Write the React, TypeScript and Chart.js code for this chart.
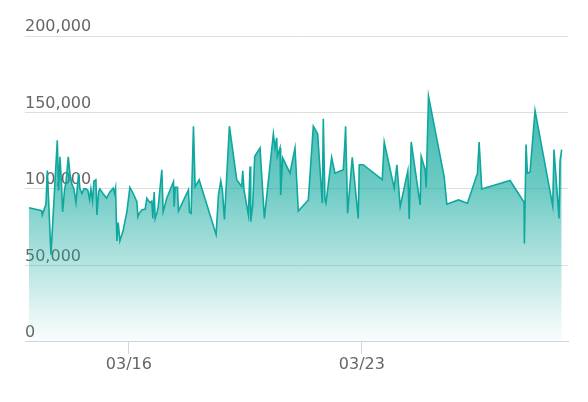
import { useEffect, useRef } from "react";
import { Chart, registerables } from "chart.js";

Chart.register(...registerables);

// x: day of March (fractional), y: value
const days = [
  13.0, 13.38, 13.4, 13.51, 13.55, 13.66, 13.85, 13.89, 13.93, 13.97,
  14.01, 14.07, 14.11, 14.18, 14.23, 14.29, 14.35, 14.41, 14.49, 14.53,
  14.59, 14.65, 14.71, 14.77, 14.82, 14.86, 14.91, 14.95, 15.01, 15.04,
  15.09, 15.13, 15.22, 15.33, 15.43, 15.53, 15.57, 15.6, 15.64, 15.68,
  15.73, 15.83, 15.94, 16.03, 16.13, 16.24, 16.27, 16.31, 16.39, 16.49,
  16.54, 16.58, 16.64, 16.69, 16.72, 16.76, 16.79, 16.84, 16.88, 16.99,
  17.03, 17.14, 17.34, 17.36, 17.39, 17.46, 17.49, 17.79, 17.82, 17.87,
  17.94, 17.99, 18.11, 18.62, 18.69, 18.76, 18.81, 18.87, 19.02, 19.24,
  19.39, 19.42, 19.46, 19.59, 19.64, 19.66, 19.72, 19.78, 19.94, 20.07,
  20.34, 20.39, 20.44, 20.46, 20.54, 20.56, 20.62, 20.84, 20.99, 21.09,
  21.39, 21.54, 21.67, 21.81, 21.84, 21.89, 21.92, 22.09, 22.19, 22.44,
  22.49, 22.51, 22.57, 22.71, 22.89, 22.92, 23.04, 23.61, 23.67, 23.97,
  24.05, 24.15, 24.38, 24.42, 24.48, 24.75, 24.78, 24.9, 24.93, 25.0,
  25.47, 25.55, 25.9, 26.17, 26.47, 26.52, 26.6, 27.45, 27.87, 27.88,
  27.93, 27.97, 28.05, 28.2, 28.73, 28.77, 28.92, 28.95, 29.0,
];

const values = [
  87700, 85700, 82900, 90100, 112000, 57000, 131800, 99000, 121000, 106000,
  85000, 100000, 104000, 121000, 110000, 103000, 100000, 91000, 110000, 100000,
  97000, 100000, 100000, 99000, 93000, 100000, 92000, 105000, 106000, 83000,
  98000, 100000, 97000, 94000, 98000, 100500, 97000, 100500, 66000, 78000,
  66000, 73000, 85000, 101000, 97000, 91600, 81800, 84000, 86200, 86800,
  93900, 92500, 91000, 92000, 80700, 98000, 80700, 84000, 88000, 112500,
  85000, 94000, 104800, 88400, 101000, 101000, 85500, 99400, 84700, 84000,
  141000, 101500, 106000, 70200, 96000, 105300, 99000, 80000, 141000, 106000,
  101500, 111900, 99000, 82900, 114700, 78500, 89500, 121300, 126800, 80700,
  136000, 126800, 133400, 121300, 126800, 96000, 120200, 110300, 126800, 85500,
  92800, 141000, 136000, 90600, 145900, 92800, 90600, 120600, 110300, 112500,
  131000, 141000, 84000, 120600, 80700, 115800, 115800, 106000, 130700, 100500,
  115800, 88400, 111900, 80300, 130700, 89500, 121300, 112500, 101000, 160700,
  108000, 90000, 92800, 90600, 110300, 130700, 100000, 105500, 91300, 64300,
  129000, 110300, 111000, 151300, 89000, 125700, 80700, 118000, 125700,
];

const xTickDays = [16, 23];
const xTickLabels = ["03/16", "03/23"];
const yTickValues = [0, 50000, 100000, 150000, 200000];

const FONT = { family: "'DejaVu Sans', sans-serif", size: 16 };

export default function App() {
  const ref = useRef<HTMLCanvasElement>(null);

  useEffect(() => {
    const canvas = ref.current;
    if (!canvas) return;
    const chart = new Chart(canvas, {
      type: "line",
      data: {
        datasets: [
          {
            data: days.map((d, i) => ({ x: d, y: values[i] })),
            borderColor: "#0fa89e",
            borderWidth: 1.6,
            pointRadius: 0,
            tension: 0,
            fill: "origin",
            backgroundColor: (c: any) => {
              const area = c.chart.chartArea;
              if (!area) return "rgba(15,168,158,0.5)";
              const g = c.chart.ctx.createLinearGradient(0, area.top, 0, area.bottom);
              g.addColorStop(0, "rgba(15,168,158,0.95)");
              g.addColorStop(0.5, "rgba(15,168,158,0.6)");
              g.addColorStop(0.9, "rgba(15,168,158,0.12)");
              g.addColorStop(1, "rgba(15,168,158,0.02)");
              return g;
            },
          },
        ],
      },
      options: {
        animation: false,
        responsive: true,
        maintainAspectRatio: false,
        layout: { padding: { left: 25, right: 20, top: 36, bottom: 27 } },
        plugins: { legend: { display: false }, tooltip: { enabled: false } },
        scales: {
          x: {
            type: "linear",
            min: 12.88,
            max: 29.19,
            afterBuildTicks: (s: any) => {
              s.ticks = xTickDays.map((v) => ({ value: v }));
            },
            ticks: {
              callback: (v: any) => {
                const i = xTickDays.indexOf(Number(v));
                return i >= 0 ? xTickLabels[i] : "";
              },
              font: FONT,
              color: "#666666",
              padding: 1,
              maxRotation: 0,
              autoSkip: false,
            },
            grid: {
              drawOnChartArea: false,
              drawTicks: true,
              tickLength: 12,
              color: "#ccd6eb",
            },
            border: { display: true, color: "#ccd6eb" },
          },
          y: {
            min: 0,
            max: 200000,
            afterBuildTicks: (s: any) => {
              s.ticks = yTickValues.map((v) => ({ value: v }));
            },
            ticks: {
              mirror: true,
              padding: 0,
              labelOffset: -9,
              callback: (v: any) => Number(v).toLocaleString("en-US"),
              font: FONT,
              color: "#666666",
            },
            grid: { color: "#dedede", drawTicks: false },
            border: { display: false },
          },
        },
      },
    });
    return () => chart.destroy();
  }, []);

  return (
    <div style={{ position: "fixed", left: 0, top: 0, width: 588, height: 402 }}>
      <canvas ref={ref} />
    </div>
  );
}
